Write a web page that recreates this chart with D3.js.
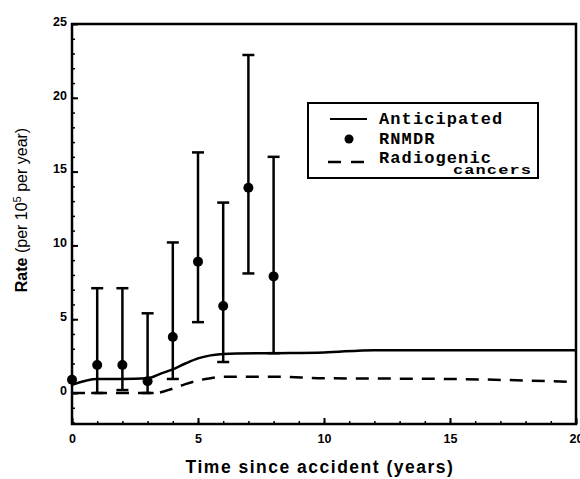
<!DOCTYPE html>
<html>
<head>
<meta charset="utf-8">
<script src="https://cdn.jsdelivr.net/npm/d3@7"></script>
<style>
  body { margin: 0; background: #fff; }
  svg { display: block; }
  .axis text { font-family: "Liberation Sans", Arial, sans-serif; font-weight: bold; font-size: 12.5px; fill: #000; }
  .legend text { font-family: "Liberation Mono", "Courier New", monospace; font-weight: bold; fill: #000; }
</style>
</head>
<body>
<div id="chart"></div>
<script>
// RNMDR observed rates with error bars
var years = [0, 1, 2, 3, 4, 5, 6, 7, 8],
    rates = [0.9, 1.9, 1.9, 0.8, 3.8, 8.9, 5.9, 13.9, 7.9],
    lower = [0.9, 0.0, 0.2, 0.0, 0.95, 4.8, 2.1, 8.1, 2.7],
    upper = [0.9, 7.1, 7.1, 5.4, 10.2, 16.3, 12.9, 22.9, 16.0];

// anticipated curve
var antX = [0, 1, 2, 3, 3.5, 4, 4.5, 5, 5.5, 6, 8, 10, 12, 20],
    antY = [0.55, 0.95, 0.95, 1.0, 1.3, 1.6, 2.0, 2.35, 2.55, 2.65, 2.7, 2.75, 2.9, 2.9];

// radiogenic cancers curve
var radX = [0, 1, 2, 3, 3.3, 4, 4.5, 5, 5.5, 6, 8, 10, 15, 20],
    radY = [0.0, 0.0, 0.0, 0.0, 0.0, 0.3, 0.6, 0.85, 1.0, 1.1, 1.1, 1.0, 0.95, 0.75];

var xTicks = [0, 5, 10, 15, 20],
    yTicks = [0, 5, 10, 15, 20, 25];

var W = 580,
    H = 479,
    mLeft = 72,
    mTop = 24,
    mRight = 576,
    mBottom = 424;

var svg = d3.select('#chart').append('svg')
        .attr('width', W)
        .attr('height', H),
    xScale = d3.scaleLinear().domain([0, 20]).range([mLeft, mRight]),
    yScale = d3.scaleLinear().domain([-2.1, 25]).range([mBottom, mTop]);

// minor ticks (inward)
svg.append('g')
    .attr('transform', 'translate(0,' + mBottom + ')')
    .call(d3.axisTop(xScale).tickValues(d3.range(0, 21)).tickSize(3).tickFormat(''))
    .call(function(g) { g.select('.domain').remove(); })
    .selectAll('line').attr('stroke-width', 1.5);

svg.append('g')
    .attr('transform', 'translate(' + mLeft + ',0)')
    .call(d3.axisRight(yScale).tickValues(d3.range(-2, 26)).tickSize(3).tickFormat(''))
    .call(function(g) { g.select('.domain').remove(); })
    .selectAll('line').attr('stroke-width', 1.5);

// major ticks + labels
var xx = svg.append('g')
    .attr('class', 'axis')
    .attr('transform', 'translate(0,' + mBottom + ')')
    .call(d3.axisTop(xScale).tickValues(xTicks).tickSize(6).tickFormat(d3.format('d')));
xx.select('.domain').remove();
xx.selectAll('line').attr('stroke-width', 2);
xx.selectAll('text').attr('y', 19).attr('dy', 0);

var yy = svg.append('g')
    .attr('class', 'axis')
    .attr('transform', 'translate(' + mLeft + ',0)')
    .call(d3.axisRight(yScale).tickValues(yTicks).tickSize(6).tickFormat(d3.format('d')));
yy.select('.domain').remove();
yy.selectAll('line').attr('stroke-width', 2);
yy.selectAll('text')
    .attr('x', -5)
    .attr('dy', '0.1em')
    .style('text-anchor', 'end');

// frame
svg.append('rect')
    .attr('x', mLeft)
    .attr('y', mTop)
    .attr('width', mRight - mLeft)
    .attr('height', mBottom - mTop)
    .attr('fill', 'none')
    .attr('stroke', '#000')
    .attr('stroke-width', 2.5);

var line = d3.line()
    .x(function(d) { return xScale(d[0]); })
    .y(function(d) { return yScale(d[1]); })
    .curve(d3.curveMonotoneX);

svg.append('path')
    .datum(d3.zip(antX, antY))
    .attr('d', line)
    .attr('fill', 'none')
    .attr('stroke', '#000')
    .attr('stroke-width', 2.5);

svg.append('path')
    .datum(d3.zip(radX, radY))
    .attr('d', line)
    .attr('fill', 'none')
    .attr('stroke', '#000')
    .attr('stroke-width', 2.5)
    .attr('stroke-dasharray', '13,9');

// error bars
var obs = years.map(function(x, i) {
    return {x: x, y: rates[i], lo: lower[i], hi: upper[i]};
});

var bars = svg.append('g')
    .attr('stroke', '#000')
    .attr('stroke-width', 2.5)
    .selectAll('g')
    .data(obs.filter(function(d) { return d.hi > d.lo; }))
    .enter()
    .append('g');

bars.append('line')
    .attr('x1', function(d) { return xScale(d.x); })
    .attr('x2', function(d) { return xScale(d.x); })
    .attr('y1', function(d) { return yScale(d.lo); })
    .attr('y2', function(d) { return yScale(d.hi); });

bars.selectAll('.cap')
    .data(function(d) { return [{x: d.x, v: d.lo}, {x: d.x, v: d.hi}]; })
    .enter()
    .append('line')
    .attr('class', 'cap')
    .attr('x1', function(d) { return xScale(d.x) - 6; })
    .attr('x2', function(d) { return xScale(d.x) + 6; })
    .attr('y1', function(d) { return yScale(d.v); })
    .attr('y2', function(d) { return yScale(d.v); });

svg.append('g')
    .selectAll('circle')
    .data(obs)
    .enter()
    .append('circle')
    .attr('cx', function(d) { return xScale(d.x); })
    .attr('cy', function(d) { return yScale(d.y); })
    .attr('r', 5)
    .attr('fill', '#000');

// axis titles
svg.append('text')
    .attr('x', 320)
    .attr('y', 473)
    .style('text-anchor', 'middle')
    .style('font-family', '"Liberation Sans", Arial, sans-serif')
    .style('font-weight', 'bold')
    .style('font-size', '17.5px')
    .style('letter-spacing', '1.5px')
    .text('Time since accident (years)');

var ytitle = svg.append('text')
    .attr('transform', 'translate(27,210) rotate(-90)')
    .style('text-anchor', 'middle')
    .style('font-family', '"Liberation Sans", Arial, sans-serif')
    .style('font-size', '16px');
ytitle.append('tspan').style('font-weight', 'bold').text('Rate ');
ytitle.append('tspan').text('(per 10');
ytitle.append('tspan').attr('dy', -6).style('font-size', '11px').text('5');
ytitle.append('tspan').attr('dy', 6).text(' per year)');

// legend
var legend = svg.append('g').attr('class', 'legend');

legend.append('rect')
    .attr('x', 308)
    .attr('y', 103)
    .attr('width', 230)
    .attr('height', 75)
    .attr('fill', '#fff')
    .attr('stroke', '#000')
    .attr('stroke-width', 2);

legend.append('line')
    .attr('x1', 330).attr('x2', 367)
    .attr('y1', 119).attr('y2', 119)
    .attr('stroke', '#000').attr('stroke-width', 2);

legend.append('circle')
    .attr('cx', 349).attr('cy', 139).attr('r', 4.5)
    .attr('fill', '#000');

legend.append('line')
    .attr('x1', 328).attr('x2', 364)
    .attr('y1', 162).attr('y2', 162)
    .attr('stroke', '#000').attr('stroke-width', 2.5)
    .attr('stroke-dasharray', '13,10');

var labels = ['Anticipated', 'RNMDR', 'Radiogenic'];
legend.selectAll('.ltext')
    .data(labels)
    .enter()
    .append('text')
    .attr('class', 'ltext')
    .attr('x', 379)
    .attr('y', function(d, i) { return 124 + i * 19.5; })
    .style('font-size', '17px')
    .style('letter-spacing', '1.1px')
    .text(function(d) { return d; });

legend.append('text')
    .attr('transform', 'translate(453,174) scale(1,0.7)')
    .style('font-size', '17px')
    .style('letter-spacing', '1.1px')
    .text('cancers');
</script>
</body>
</html>
